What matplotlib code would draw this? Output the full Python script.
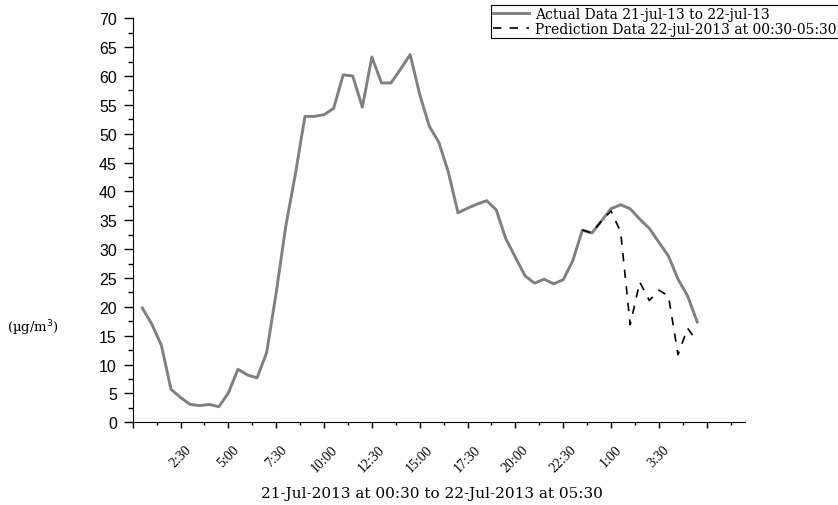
import matplotlib.pyplot as plt
import numpy as np
from matplotlib.ticker import MultipleLocator

# Half-hourly PM readings, 21-Jul-2013 00:30 .. 22-Jul-2013 05:30
actual = [19.8, 17.0, 13.3, 5.7, 4.3, 3.1, 2.9, 3.1, 2.7, 5.1,
          9.2, 8.2, 7.7, 12.1, 22.5, 34.0, 43.0, 53.0, 53.0, 53.3,
          54.4, 60.2, 60.0, 54.6, 63.3, 58.8, 58.8, 61.2, 63.7, 56.8,
          51.3, 48.5, 43.3, 36.3, 37.1, 37.8, 38.4, 36.8, 31.8, 28.6,
          25.4, 24.1, 24.8, 24.0, 24.7, 28.0, 33.3, 32.8, 34.9, 37.0,
          37.7, 37.0, 35.2, 33.6, 31.2, 28.8, 24.8, 21.9, 17.4]
prediction = [33.3, 32.8, 34.9, 36.6, 33.0, 16.9, 24.3, 21.1, 22.9, 21.9,
              11.7, 16.3, 14.0]
pred_start = 47  # half-hour step where the prediction begins

tick_labels = ["", "2:30", "5:00", "7:30", "10:00", "12:30", "15:00",
               "17:30", "20:00", "22:30", "1:00", "3:30", ""]

# time axis in hours since 21-Jul 00:00
t_actual = 0.5 * np.arange(1, len(actual) + 1)
t_pred = 0.5 * np.arange(pred_start, pred_start + len(prediction))

fig = plt.figure(figsize=(8.38, 5.06), dpi=100)
ax = fig.add_axes([0.1584, 0.1634, 0.7306, 0.7985])

ax.plot(t_actual, actual, color="#808080", lw=2.1,
        label="Actual Data 21-jul-13 to 22-jul-13")
ax.plot(t_pred, prediction, color="black", lw=1.2, ls=(0, (5, 5)),
        label="Prediction Data 22-jul-2013 at 00:30-05:30")

ax.set_xlim(0, 32)
ax.set_ylim(0, 70)
ax.spines["top"].set_visible(False)
ax.spines["right"].set_visible(False)

ax.set_xticks(np.arange(0, 31, 2.5))
ax.set_xticklabels(tick_labels, rotation=45, ha="center",
                   family="Liberation Serif", fontsize=10)
ax.xaxis.set_minor_locator(MultipleLocator(1.25))
ax.yaxis.set_major_locator(MultipleLocator(5))
ax.yaxis.set_minor_locator(MultipleLocator(2.5))
for lab in ax.get_yticklabels():
    lab.set_family("Liberation Sans")
    lab.set_fontsize(11.5)
ax.tick_params(axis="x", which="major", length=4.5, width=1, pad=10)
ax.tick_params(axis="x", which="minor", length=2.5, width=1)
ax.tick_params(axis="y", which="major", length=6.5, width=1, pad=5)
ax.tick_params(axis="y", which="minor", length=3.5, width=1)

fig.text(0.008, 0.352, "(\u00b5g/m$^{3}$)", family="DejaVu Serif", fontsize=9.5,
         va="center", ha="left")
fig.text(0.5155, 0.024, "21-Jul-2013 at 00:30 to 22-Jul-2013 at 05:30",
         family="DejaVu Serif", fontsize=11, ha="center", va="center")

leg = fig.legend(loc="upper left", bbox_to_anchor=(0.586, 0.988),
                 prop={"family": "DejaVu Serif", "size": 10},
                 fancybox=False, framealpha=1, edgecolor="black",
                 borderpad=0.15, labelspacing=0.05, handlelength=2.6,
                 handletextpad=0.4, borderaxespad=0)
leg.get_frame().set_linewidth(0.8)

fig.savefig("out.png", dpi=100)
